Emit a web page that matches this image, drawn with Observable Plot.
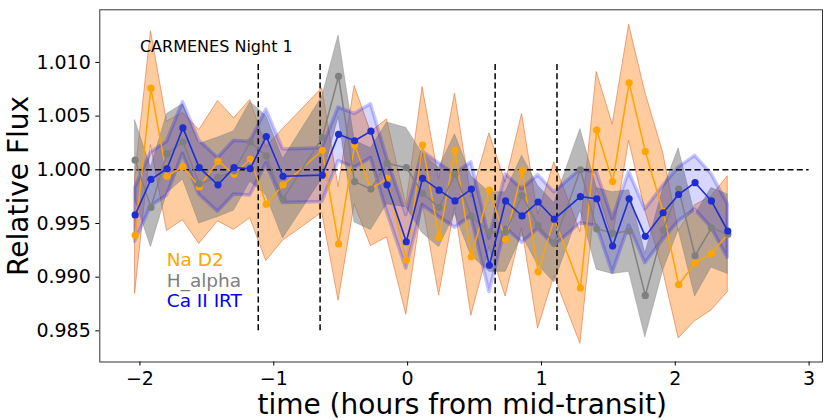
<!DOCTYPE html>
<html><head><meta charset="utf-8">
<script src="https://cdn.jsdelivr.net/npm/d3@7"></script>
<script src="https://cdn.jsdelivr.net/npm/@observablehq/plot@0.6"></script>
<style>html,body{margin:0;padding:0;background:#fff;} svg{display:block;}</style>
</head><body><div id="chart"></div>
<script>
// time in hours from mid-transit
const time = [-2.036,-1.918,-1.798,-1.679,-1.557,-1.417,-1.297,-1.176,-1.056,-0.931,
  -0.638,-0.516,-0.396,-0.274,-0.154,-0.010,0.112,0.235,0.354,0.476,
  0.611,0.732,0.855,0.975,1.096,1.291,1.413,1.532,1.655,1.776,
  1.909,2.025,2.148,2.270,2.392];

const naD2 = [0.9939,1.0076,0.9994,1.0003,0.9984,1.0008,0.9996,1.0010,0.9968,0.9986,
  1.0018,0.9931,1.0023,0.9982,0.9992,0.9916,1.0023,0.9937,1.0018,0.9919,
  0.9981,0.9935,0.9999,0.9905,0.9954,0.9890,1.0037,0.9989,1.0081,1.0017,
  0.9961,0.9893,0.9913,0.9922,0.9940];
const naD2Err = [0.0054,0.0053,0.0051,0.0050,0.0053,0.0056,0.0052,0.0055,0.0053,0.0052,
  0.0058,0.0053,0.0055,0.0053,0.0055,0.0051,0.0054,0.0054,0.0053,0.0055,
  0.0053,0.0053,0.0053,0.0053,0.0053,0.0052,0.0054,0.0053,0.0054,0.0055,
  0.0055,0.0050,0.0054,0.0053,0.0054];

const hAlpha = [1.0009,0.9965,1.0015,1.0026,0.9987,0.9993,0.9999,1.0026,1.0013,0.9973,
  1.0030,1.0087,0.9989,0.9982,1.0006,1.0002,0.9978,0.9965,0.9996,0.9957,
  0.9942,0.9942,0.9976,0.9948,0.9932,1.0000,0.9945,0.9941,0.9943,0.9883,
  0.9944,0.9982,0.9920,0.9946,0.9940];
const hAlphaErr = [0.0037,0.0037,0.0037,0.0035,0.0037,0.0037,0.0037,0.0037,0.0037,0.0037,
  0.0038,0.0038,0.0038,0.0038,0.0038,0.0037,0.0037,0.0037,0.0037,0.0037,
  0.0037,0.0037,0.0037,0.0037,0.0037,0.0038,0.0038,0.0038,0.0038,0.0039,
  0.0038,0.0038,0.0038,0.0037,0.0037];

const caIRT = [0.9958,0.9991,1.0001,1.0039,1.0002,0.9986,1.0002,1.0001,1.0031,0.9994,
  0.9995,1.0033,1.0027,1.0036,0.9986,0.9933,0.9992,0.9981,0.9971,0.9982,
  0.9911,0.9971,0.9957,0.9970,0.9954,0.9975,0.9973,0.9929,0.9973,0.9938,
  0.9960,0.9977,0.9988,0.9971,0.9943];
const caIRTErr = [0.0025,0.0025,0.0025,0.0024,0.0025,0.0025,0.0025,0.0025,0.0025,0.0025,
  0.0025,0.0025,0.0025,0.0025,0.0025,0.0025,0.0025,0.0025,0.0025,0.0025,
  0.0025,0.0025,0.0025,0.0025,0.0025,0.0025,0.0025,0.0025,0.0025,0.0025,
  0.0025,0.0025,0.0025,0.0025,0.0025];

const contactTimes = [-1.116, -0.654, 0.654, 1.116];
const xTicks = [-2, -1, 0, 1, 2, 3];
const yTicks = [0.985, 0.990, 0.995, 1.000, 1.005, 1.010];
const seriesNames = ["Na D2", "H_alpha", "Ca II IRT"];
const seriesColors = ["#ffa500", "#808080", "#0000ff"];
const legendY = [0.9910, 0.9891, 0.9872];

const rows = (vals, errs) => time.map((t, i) => ({t, v: vals[i], lo: vals[i] - errs[i], hi: vals[i] + errs[i]}));
const na = rows(naD2, naD2Err);
const ha = rows(hAlpha, hAlphaErr);
const ca = rows(caIRT, caIRTErr);
const legend = seriesNames.map((name, i) => ({name, color: seriesColors[i], y: legendY[i]}));
const minus = d => (d < 0 ? "\u2212" + Math.abs(d) : String(d));

const chart = Plot.plot({
  width: 831, height: 420,
  marginLeft: 99.3, marginRight: 9, marginTop: 9.3, marginBottom: 58.5,
  style: {fontFamily: "DejaVu Sans", background: "white", color: "black"},
  x: {domain: [-2.3, 3.1]},
  y: {domain: [0.98210, 1.01490]},
  marks: [
    Plot.areaY(na, {x: "t", y1: "lo", y2: "hi", fill: "#ff7f0e", fillOpacity: 0.4, stroke: "#e0703c", strokeOpacity: 0.6, strokeWidth: 1}),
    Plot.areaY(ha, {x: "t", y1: "lo", y2: "hi", fill: "#808080", fillOpacity: 0.55, stroke: "#808080", strokeOpacity: 0.4, strokeWidth: 1}),
    Plot.areaY(ca, {x: "t", y1: "lo", y2: "hi", fill: "#0000ff", fillOpacity: 0.16, stroke: "#0000ff", strokeOpacity: 0.22, strokeWidth: 3.5}),
    Plot.ruleY([1], {x1: -2.3, x2: 3, stroke: "black", strokeWidth: 1.5, strokeDasharray: "6,3.3"}),
    Plot.ruleX(contactTimes, {y1: 0.985, y2: 1.010, stroke: "black", strokeWidth: 1.5, strokeDasharray: "6,3.3"}),
    Plot.line(na, {x: "t", y: "v", stroke: seriesColors[0], strokeWidth: 1.5}),
    Plot.dot(na, {x: "t", y: "v", fill: seriesColors[0], r: 3.6}),
    Plot.line(ha, {x: "t", y: "v", stroke: seriesColors[1], strokeWidth: 1.5}),
    Plot.dot(ha, {x: "t", y: "v", fill: seriesColors[1], r: 3.6}),
    Plot.line(ca, {x: "t", y: "v", stroke: "#1e2ecf", strokeWidth: 1.6}),
    Plot.dot(ca, {x: "t", y: "v", fill: "#1e2ecf", r: 3.6}),
    Plot.text(["CARMENES Night 1"], {x: -2.0, y: 1.011, textAnchor: "start", lineAnchor: "bottom", fontSize: 16, fill: "black"}),
    Plot.text(legend, {x: -1.8, y: "y", text: "name", fill: "color", textAnchor: "start", lineAnchor: "bottom", fontSize: 18.5}),
    Plot.frame({stroke: "#333", strokeWidth: 1}),
    Plot.axisX({ticks: xTicks, tickFormat: minus, tickSize: 4, tickPadding: 5, fontSize: 19, label: null}),
    Plot.axisY({ticks: yTicks, tickFormat: d3.format(".3f"), tickSize: 4, tickPadding: 5, fontSize: 19, label: null}),
    Plot.text(["Relative Flux"], {frameAnchor: "left", dx: -72, dy: 0, rotate: -90, textAnchor: "middle", lineAnchor: "bottom", fontSize: 28, fill: "black"}),
    Plot.text(["time (hours from mid-transit)"], {frameAnchor: "bottom", dx: 1, dy: 51.5, textAnchor: "middle", lineAnchor: "bottom", fontSize: 28, fill: "black"})
  ]
});
document.getElementById("chart").appendChild(chart);
</script></body></html>
